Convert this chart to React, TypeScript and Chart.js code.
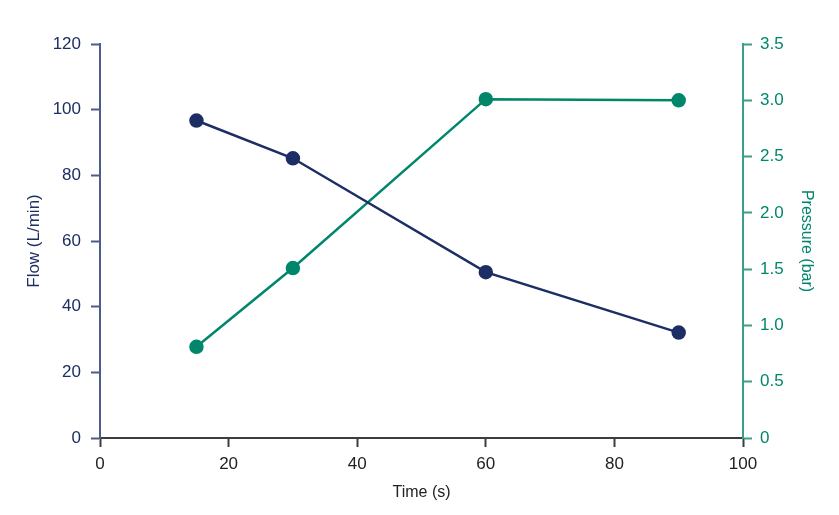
import React, { useEffect, useRef } from "react";
import { Chart, registerables } from "chart.js";

Chart.register(...registerables);

const timeSeconds = [15, 30, 60, 90];
const flowValues = [96.7, 85.2, 50.5, 32.1];
const pressureValues = [0.81, 1.51, 3.01, 3.0];

const xTicks = [0, 20, 40, 60, 80, 100];
const flowTicks = [0, 20, 40, 60, 80, 100, 120];
const pressureTicks = [0, 0.5, 1, 1.5, 2, 2.5, 3, 3.5];

const NAVY = "#1c2e63";
const GREEN = "#00876b";
const FONT = "'Liberation Sans', Arial, sans-serif";

export default function App() {
  const ref = useRef<HTMLCanvasElement | null>(null);

  useEffect(() => {
    if (!ref.current) return;
    const chart = new Chart(ref.current, {
      type: "line",
      data: {
        datasets: [
          {
            label: "Flow (L/min)",
            data: timeSeconds.map((t, i) => ({ x: t, y: flowValues[i] })),
            borderColor: NAVY,
            backgroundColor: NAVY,
            borderWidth: 2.5,
            pointRadius: 6,
            pointHoverRadius: 6,
            yAxisID: "y",
          },
          {
            label: "Pressure (bar)",
            data: timeSeconds.map((t, i) => ({ x: t, y: pressureValues[i] })),
            borderColor: GREEN,
            backgroundColor: GREEN,
            borderWidth: 2.5,
            pointRadius: 6,
            pointHoverRadius: 6,
            yAxisID: "y1",
          },
        ],
      },
      options: {
        animation: false,
        responsive: false,
        maintainAspectRatio: false,
        layout: { padding: { top: 44, left: 0, right: 0, bottom: 0 } },
        plugins: { legend: { display: false }, tooltip: { enabled: false } },
        scales: {
          x: {
            type: "linear",
            min: 0,
            max: 100,
            afterBuildTicks: (s: any) => {
              s.ticks = xTicks.map((v) => ({ value: v }));
            },
            afterFit: (s: any) => {
              s.height = 77;
            },
            border: { display: true, color: "#3d3d3d", width: 2 },
            grid: { display: true, drawOnChartArea: false, drawTicks: true, tickLength: 9, tickWidth: 2, color: "#3d3d3d" },
            ticks: { color: "#222", font: { family: FONT, size: 17 }, padding: 7, maxRotation: 0 },
            title: { display: true, text: "Time (s)", color: "#222", font: { family: FONT, size: 16 }, padding: { top: 4, bottom: 13 } },
          },
          y: {
            type: "linear",
            position: "left",
            min: 0,
            max: 120,
            afterBuildTicks: (s: any) => {
              s.ticks = flowTicks.map((v) => ({ value: v }));
            },
            afterFit: (s: any) => {
              s.width = 100;
            },
            border: { display: true, color: "#4d5d88", width: 2 },
            grid: { display: true, drawOnChartArea: false, drawTicks: true, tickLength: 9, tickWidth: 2, color: "#4d5d88" },
            ticks: { color: NAVY, font: { family: FONT, size: 17 }, padding: 10 },
            title: { display: true, text: "Flow (L/min)", color: NAVY, font: { family: FONT, size: 17 }, padding: { top: 24, bottom: 4 } },
          },
          y1: {
            type: "linear",
            position: "right",
            min: 0,
            max: 3.5,
            afterBuildTicks: (s: any) => {
              s.ticks = pressureTicks.map((v) => ({ value: v }));
            },
            afterFit: (s: any) => {
              s.width = 96;
            },
            border: { display: true, color: "#3a9e88", width: 2 },
            grid: { display: true, drawOnChartArea: false, drawTicks: true, tickLength: 9, tickWidth: 2, color: "#3a9e88" },
            ticks: {
              color: GREEN,
              font: { family: FONT, size: 17 },
              padding: 8,
              callback: (v: any) => (Number(v) === 0 ? "0" : Number(v).toFixed(1)),
            },
            title: { display: true, text: "Pressure (bar)", color: GREEN, font: { family: FONT, size: 16 }, padding: { top: 23, bottom: 4 } },
          },
        },
      },
    });
    return () => chart.destroy();
  }, []);

  return (
    <div style={{ position: "absolute", left: 0, top: 0, width: 839, height: 515, background: "#fff" }}>
      <canvas ref={ref} width={839} height={515} style={{ width: 839, height: 515, display: "block" }} />
    </div>
  );
}
